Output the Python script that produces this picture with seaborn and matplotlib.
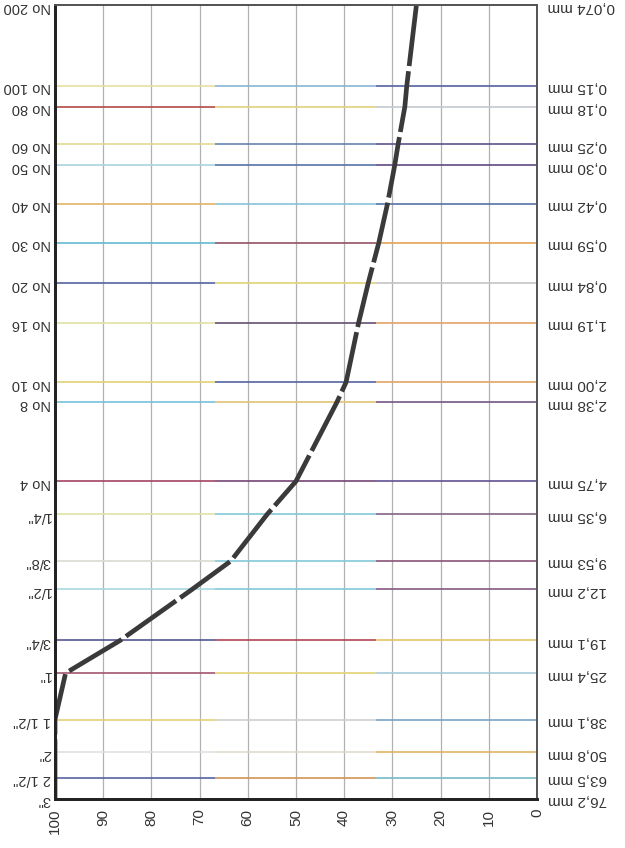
import matplotlib
matplotlib.use("Agg")
import matplotlib.pyplot as plt
import seaborn as sns
import pandas as pd

# ---------------- data ----------------
sieve_mm = [0.074, 0.15, 0.18, 0.25, 0.30, 0.42, 0.59, 0.84, 1.19, 2.00, 2.38,
            4.75, 6.35, 9.53, 12.2, 19.1, 25.4, 38.1, 50.8, 63.5, 76.2]
sieve_names = ["No 200", "No 100", "No 80", "No 60", "No 50", "No 40", "No 30",
               "No 20", "No 16", "No 10", "No 8", "No 4", '1/4"', '3/8"', '1/2"',
               '3/4"', '1"', '1 1/2"', '2"', '2 1/2"', '3"']
mm_labels = ["0,074 mm", "0,15 mm", "0,18 mm", "0,25 mm", "0,30 mm", "0,42 mm",
             "0,59 mm", "0,84 mm", "1,19 mm", "2,00 mm", "2,38 mm", "4,75 mm",
             "6,35 mm", "9,53 mm", "12,2 mm", "19,1 mm", "25,4 mm", "38,1 mm",
             "50,8 mm", "63,5 mm", "76,2 mm"]
percent_passing = [25, 27, 27.4, 28.8, 29.5, 31, 32.8, 35, 37, 39.6, 41.5,
                   50, 56, 63.5, 71.5, 86.5, 97.8, 100, 100, 100, 100]
x_ticks = [100, 90, 80, 70, 60, 50, 40, 30, 20, 10, 0]

# ---------------- styles ----------------
# colours of each sieve line (left / middle / right thirds), mimicking the scan
line_colors = [
    None,
    ("#e6dfa0", "#86b6d4", "#5561a2"),
    ("#b24a48", "#e2d07e", "#c4cad2"),
    ("#e3da92", "#6485b4", "#5f528f"),
    ("#a8d4e2", "#5572a4", "#5f4a82"),
    ("#e2b466", "#84c2d8", "#5473a6"),
    ("#66bad2", "#925262", "#e2a456"),
    ("#5562a2", "#e2d276", "#c4c4c4"),
    ("#e2e2a6", "#625274", "#e2a466"),
    ("#e2d276", "#5562a2", "#e2a466"),
    ("#76c2d8", "#e2c476", "#755585"),
    ("#a24462", "#744474", "#605292"),
    ("#e2e2a6", "#84c8d8", "#846484"),
    ("#d8dcd0", "#84c8d8", "#8a5478"),
    ("#a8d8e2", "#84c8d8", "#845a84"),
    ("#555592", "#b24456", "#e2c466"),
    ("#a45472", "#e2d276", "#a6cad8"),
    ("#e2d276", "#d0d0d0", "#76a6c8"),
    ("#e0e0e0", "#e0dccc", "#e2b466"),
    ("#5562a2", "#d29456", "#76bac8"),
    None,
]
thirds = [(100, 66.7), (66.7, 33.3), (33.3, 0)]

sns.set_style("white")
plt.rcParams["font.family"] = ["Liberation Sans", "DejaVu Sans"]

fig = plt.figure(figsize=(6.25, 8.48), dpi=100)
ax = fig.add_axes([0.088, 0.058, 0.771, 0.936])

# vertical grid
for xv in x_ticks:
    ax.axvline(xv, color="#b0b0b0", lw=0.9, zorder=1)

# coloured horizontal sieve lines
for s, cols in zip(sieve_mm, line_colors):
    if cols is None:
        continue
    for (x0, x1), c in zip(thirds, cols):
        ax.hlines(s, x1, x0, color=c, lw=1.2, zorder=2)

df = pd.DataFrame({"size": sieve_mm, "passing": percent_passing})
sns.lineplot(data=df, x="passing", y="size", sort=False, ax=ax,
             color="#3a3a3a", lw=3.4, zorder=5, estimator=None,
             dashes=False)
ax.lines[-1].set_dashes((13, 1.1))
ax.lines[-1].set_solid_capstyle("butt")

ax.set_yscale("log")
ax.set_ylim(76.2, 0.074)
ax.set_xlim(100, 0)
ax.set_xticks(x_ticks)
ax.set_xticklabels([str(v) for v in x_ticks], rotation=90, fontsize=11,
                   color="#333333")
ax.set_yticks(sieve_mm)
ax.set_yticklabels(sieve_names, rotation=180, fontsize=10.5, color="#333333")
ax.minorticks_off()
ax.tick_params(axis="y", length=0, pad=3)
ax.tick_params(axis="x", length=0, pad=7)
ax.set_xlabel("")
ax.set_ylabel("")

ax2 = ax.twinx()
ax2.set_yscale("log")
ax2.set_ylim(76.2, 0.074)
ax2.set_yticks(sieve_mm)
ax2.set_yticklabels(mm_labels, rotation=180, fontsize=11, color="#333333")
ax2.minorticks_off()
ax2.tick_params(axis="y", length=0, pad=8)

for a in (ax, ax2):
    for side in ("left", "bottom"):
        a.spines[side].set_color("#222222")
        a.spines[side].set_linewidth(2.0)
    for side in ("top", "right"):
        a.spines[side].set_color("#555555")
        a.spines[side].set_linewidth(1.3)

fig.savefig("out.png", dpi=100)
